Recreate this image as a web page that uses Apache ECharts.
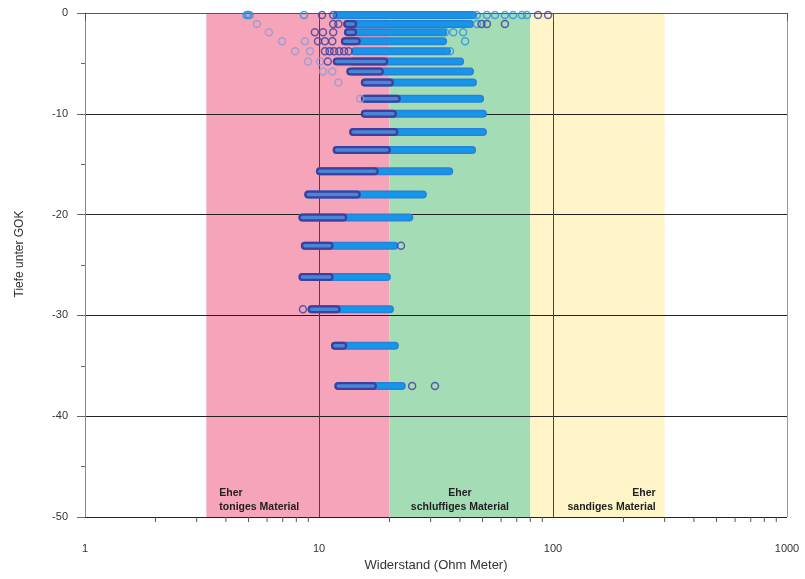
<!DOCTYPE html>
<html>
<head>
<meta charset="utf-8">
<script src="https://cdn.jsdelivr.net/npm/echarts@6.0.0/dist/echarts.min.js"></script>
<style>
  html, body { margin: 0; padding: 0; background: #fff; }
  #chart { width: 805px; height: 579px; }
</style>
</head>
<body>
<div id="chart"></div>
<script>
// depth rows (m below ground) and the extent of the dense point rows
const depth     = [-0.2, -1.1, -1.9, -2.8, -3.8, -4.8, -5.8, -6.9, -8.5, -10.0, -11.8, -13.6, -15.7, -18.0, -20.3, -23.1, -26.2, -29.4, -33.0, -37.0];
const lightFrom = [11.9, 13.2, 13.3, 12.9, 14.2, 14.0, 14.0, 15.7, 15.7, 15.7, 14.0, 11.9, 10.1, 9.0, 8.5, 8.7, 8.5, 9.3, 11.7, 12.1];
const lightTo   = [45.5, 44.2, 33.9, 33.9, 35.2, 40.1, 44.2, 45.5, 48.8, 50.2, 50.2, 45.1, 36.0, 27.8, 24.3, 21.0, 19.5, 20.1, 21.1, 22.6];
const darkFrom  = [null, 13.2, 13.3, 12.9, null, 11.9, 13.6, 15.7, 15.7, 15.7, 14.0, 11.9, 10.1, 9.0, 8.5, 8.7, 8.5, 9.3, 11.7, 12.1];
const darkTo    = [null, 14.0, 14.0, 14.5, null, 19.0, 18.2, 20.1, 21.5, 20.7, 21.0, 19.5, 17.3, 14.5, 12.7, 11.1, 11.1, 11.9, 12.7, 17.0];

// single points [Widerstand, Tiefe]
const isoPale = [[5.43, -1.1], [6.11, -1.9], [6.95, -2.8], [8.71, -2.8], [7.9, -3.8], [9.15, -3.8],
  [8.98, -4.8], [10.1, -4.8], [10.4, -5.8], [11.4, -5.8], [12.1, -6.9], [15.0, -8.5]];
const isoDark = [[10.3, -0.2], [11.5, -0.2], [11.5, -1.1], [12.1, -1.1], [9.6, -1.9], [10.4, -1.9], [11.5, -1.9],
  [9.9, -2.8], [10.6, -2.8], [11.4, -2.8], [10.6, -3.8], [11.1, -3.8], [11.6, -3.8], [12.2, -3.8], [12.8, -3.8], [13.4, -3.8],
  [10.9, -4.8], [49.5, -1.1], [52.2, -1.1], [62.3, -1.1], [86.3, -0.2], [95.3, -0.2],
  [22.4, -23.1], [8.54, -29.4], [25.0, -37.0], [31.3, -37.0]];
const isoBlue = [[4.9, -0.2], [4.97, -0.2], [5.05, -0.2], [8.63, -0.2], [47.3, -0.2], [52.2, -0.2], [56.5, -0.2],
  [62.3, -0.2], [67.5, -0.2], [73.7, -0.2], [77.4, -0.2], [47.3, -1.1], [34.6, -1.9], [37.5, -1.9], [41.3, -1.9],
  [42.1, -2.8], [36.3, -3.8]];

// material bands
const bandFrom = [3.3, 20, 80];
const bandTo   = [20, 80, 300];
const bandText = ['Eher\ntoniges Material', 'Eher\nschluffiges Material', 'Eher\nsandiges Material'];

const xMinorTicks = [2, 3, 4, 5, 6, 7, 8, 9, 20, 30, 40, 50, 60, 70, 80, 90, 200, 300, 400, 500, 600, 700, 800, 900];
const yMin = -50, yMax = 0;

var chartDom = document.getElementById('chart');
var myChart = echarts.init(chartDom);
var option;

const FONT = 'Liberation Sans, Arial, sans-serif';
const bandColors = ['#f6a4b9', '#a4dcb6', '#fff5c8'];
const bandAlign = ['left', 'center', 'right'];

function rowData(from, to) {
  var out = [];
  for (var i = 0; i < depth.length; i++) {
    if (from[i] != null && to[i] != null) out.push([from[i], to[i], depth[i]]);
  }
  return out;
}

function capsule(outer, inner, innerWidth) {
  return function (params, api) {
    var a = api.coord([api.value(0), api.value(2)]);
    var b = api.coord([api.value(1), api.value(2)]);
    var shape = { x1: a[0], y1: a[1], x2: b[0], y2: b[1] };
    return {
      type: 'group',
      children: [
        { type: 'line', shape: shape, style: { stroke: outer, lineWidth: 8, lineCap: 'round' } },
        { type: 'line', shape: shape, style: { stroke: inner, lineWidth: innerWidth, lineCap: 'round' } }
      ]
    };
  };
}

function ring(color) {
  return { color: 'transparent', borderColor: color, borderWidth: 1.5 };
}

option = {
  animation: false,
  backgroundColor: '#fff',
  textStyle: { fontFamily: FONT },
  grid: { left: 85, right: 18, top: 13, bottom: 62 },
  xAxis: {
    type: 'log',
    logBase: 10,
    min: 1,
    max: 1000,
    z: 1,
    name: 'Widerstand (Ohm Meter)',
    nameLocation: 'middle',
    nameGap: 40,
    nameTextStyle: { fontSize: 13, color: '#333', fontFamily: FONT },
    axisLine: { lineStyle: { color: '#555', width: 1 } },
    axisTick: { show: true, length: 8, lineStyle: { color: '#555' } },
    axisLabel: { fontSize: 11, color: '#333', margin: 26, fontFamily: FONT,
      formatter: function (v) { return String(Math.round(v)); } },
    splitLine: { show: true, lineStyle: { color: ['#777', '#444', '#444', '#999'], width: 1 } }
  },
  yAxis: {
    type: 'value',
    min: yMin,
    max: yMax,
    interval: 10,
    z: 1,
    name: 'Tiefe unter GOK',
    nameLocation: 'middle',
    nameGap: 59,
    nameTextStyle: { fontSize: 12, color: '#333', fontFamily: FONT, padding: [0, 0, 0, 22] },
    axisLine: { show: true, lineStyle: { color: '#888', width: 1 } },
    axisTick: { show: true, length: 8, lineStyle: { color: '#666' } },
    minorTick: { show: true, splitNumber: 2, length: 4, lineStyle: { color: '#666' } },
    axisLabel: { fontSize: 11, color: '#333', margin: 17, fontFamily: FONT },
    splitLine: { show: true, lineStyle: { color: '#222', width: 1 } }
  },
  series: [
    {
      name: 'Bereiche',
      type: 'custom',
      z: 0,
      silent: true,
      data: bandFrom.map(function (f, i) { return [f, bandTo[i], i]; }),
      encode: { x: [0, 1] },
      renderItem: function (params, api) {
        var i = api.value(2);
        var p1 = api.coord([api.value(0), yMax]);
        var p2 = api.coord([api.value(1), yMin]);
        var tx = bandAlign[i] === 'left' ? p1[0] + 13 : (bandAlign[i] === 'right' ? p2[0] - 9 : (p1[0] + p2[0]) / 2);
        return {
          type: 'group',
          children: [
            { type: 'rect', shape: { x: p1[0], y: p1[1], width: p2[0] - p1[0], height: p2[1] - p1[1] },
              style: { fill: bandColors[i] } },
            { type: 'text', z2: 10,
              style: { text: bandText[i], x: tx, y: p2[1] - 3, align: bandAlign[i], verticalAlign: 'bottom',
                font: 'bold 10.5px ' + FONT, fill: '#222', lineHeight: 14 } }
          ]
        };
      }
    },
    {
      name: 'xMinor',
      type: 'custom',
      z: 1,
      silent: true,
      clip: false,
      data: xMinorTicks.map(function (v) { return [v]; }),
      encode: { x: 0 },
      renderItem: function (params, api) {
        var p = api.coord([api.value(0), yMin]);
        return { type: 'line', shape: { x1: p[0], y1: p[1], x2: p[0], y2: p[1] + 5 },
          style: { stroke: '#555', lineWidth: 1 } };
      }
    },
    {
      name: 'Messwerte hell',
      type: 'custom',
      z: 3,
      clip: false,
      data: rowData(lightFrom, lightTo),
      encode: { x: [0, 1], y: 2 },
      renderItem: capsule('#2a80d4', '#1596ea', 5)
    },
    {
      name: 'Messwerte dunkel',
      type: 'custom',
      z: 4,
      clip: false,
      data: rowData(darkFrom, darkTo),
      encode: { x: [0, 1], y: 2 },
      renderItem: capsule('#3d3f9e', '#4a86d6', 3.5)
    },
    {
      name: 'einzeln blass',
      type: 'scatter',
      z: 5,
      symbol: 'circle',
      symbolSize: 7,
      itemStyle: ring('#8d9bd6'),
      data: isoPale
    },
    {
      name: 'einzeln blau',
      type: 'scatter',
      z: 5,
      symbol: 'circle',
      symbolSize: 7,
      itemStyle: ring('#2b92e0'),
      data: isoBlue
    },
    {
      name: 'einzeln dunkel',
      type: 'scatter',
      z: 6,
      symbol: 'circle',
      symbolSize: 7,
      itemStyle: ring('#3d3f9e'),
      data: isoDark
    }
  ]
};

if (option && typeof option === 'object') {
  myChart.setOption(option);
}

window.onresize = function () {
  myChart.resize();
};
</script>
</body>
</html>
